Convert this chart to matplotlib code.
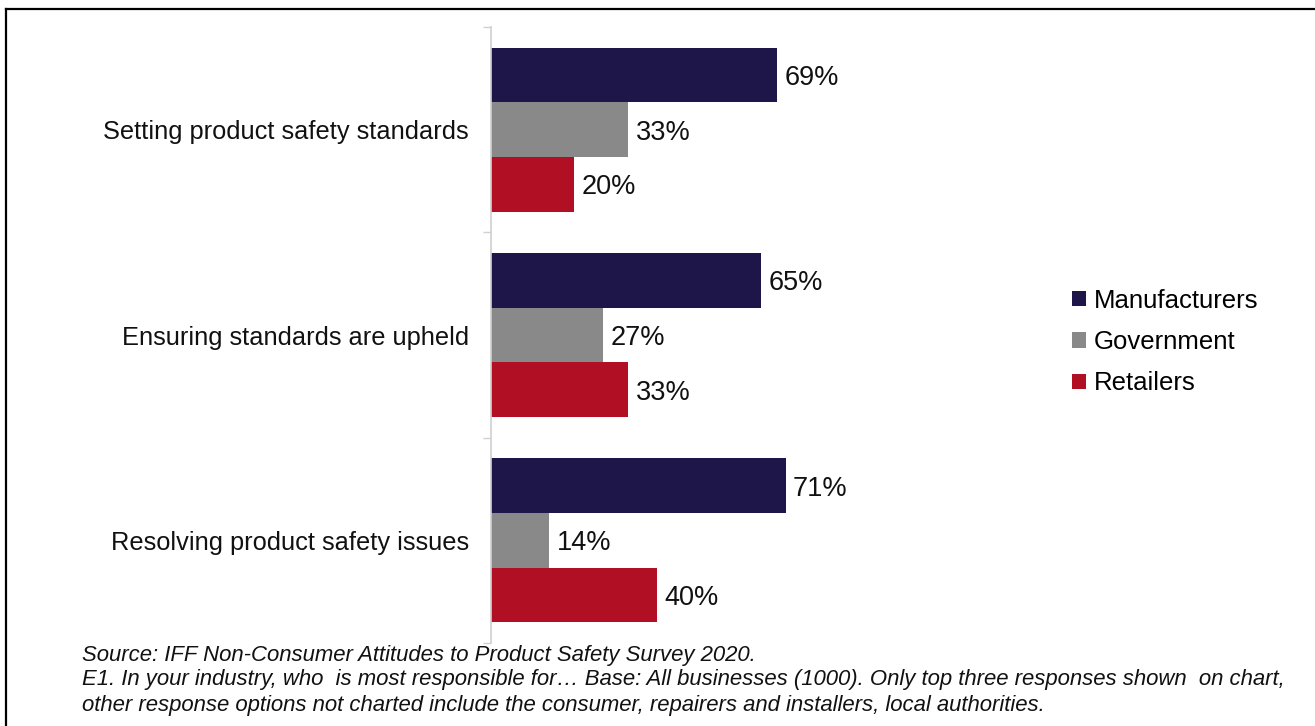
import matplotlib
matplotlib.use("Agg")
import matplotlib.pyplot as plt
from matplotlib.patches import Patch
from matplotlib.lines import Line2D
import numpy as np

plt.rcParams['font.family'] = ['Liberation Sans', 'DejaVu Sans']

categories = ["Setting product safety standards",
              "Ensuring standards are upheld",
              "Resolving product safety issues"]
series_names = ["Manufacturers", "Government", "Retailers"]
manufacturers = [69, 65, 71]
government = [33, 27, 14]
retailers = [20, 33, 40]
colors = ["#1E1548", "#898989", "#B00F24"]

source_lines = [
    "Source: IFF Non-Consumer Attitudes to Product Safety Survey 2020.",
    "E1. In your industry, who  is most responsible for\u2026 Base: All businesses (1000). Only top three responses shown  on chart,",
    "other response options not charted include the consumer, repairers and installers, local authorities.",
]

W, H = 1315, 726
fig = plt.figure(figsize=(W / 100, H / 100), dpi=100)

ax_left, ax_right = 491, 906
ax_top, ax_bottom = 27, 643
ax = fig.add_axes([ax_left / W, 1 - ax_bottom / H,
                   (ax_right - ax_left) / W, (ax_bottom - ax_top) / H])

n = len(categories)
bar_h = 0.8 / 3
values = [manufacturers, government, retailers]
for k, (vals, col, name) in enumerate(zip(values, colors, series_names)):
    ys = np.arange(n) - 0.4 + bar_h * (k + 0.5)
    ax.barh(ys, vals, height=bar_h, color=col, label=name, edgecolor='none')
    for y, v in zip(ys, vals):
        ax.text(v + 1.8, y, f"{v}%", va='center_baseline', ha='left',
                fontsize=19.5, color='#111111')

ax.set_xlim(0, 100)
ax.set_ylim(n - 0.5, -0.5)
ax.set_yticks(np.arange(n))
ax.set_yticklabels(categories, fontsize=18.3, color='#111111')
ax.tick_params(axis='y', which='major', length=0, pad=16)
ax.set_yticks(np.arange(n + 1) - 0.5, minor=True)
ax.tick_params(axis='y', which='minor', length=6, color='#D0D0D0', width=1)
ax.set_xticks([])
for s in ['top', 'right', 'bottom']:
    ax.spines[s].set_visible(False)
ax.spines['left'].set_color('#D0D0D0')
ax.spines['left'].set_linewidth(1.2)

handles = [Patch(facecolor=c, edgecolor='none') for c in colors]
fig.legend(handles, series_names, loc='center left',
           bbox_to_anchor=(1059 / W, 1 - 342 / H), frameon=False,
           fontsize=18.5, handlelength=0.55, handleheight=0.55,
           handletextpad=0.3, labelspacing=0.68, borderpad=0)

for i, line in enumerate(source_lines):
    fig.text(82 / W, 1 - (655 + 25 * i) / H, line, fontsize=15.9,
             style='italic', va='center', ha='left', color='#111111')

# outer frame: top and left edges
fig.add_artist(Line2D([6.5 / W, 1], [1 - 8.5 / H, 1 - 8.5 / H],
                      transform=fig.transFigure, color='black', lw=1.6))
fig.add_artist(Line2D([6.5 / W, 6.5 / W], [0, 1 - 8.5 / H],
                      transform=fig.transFigure, color='black', lw=1.6))

fig.savefig("out.png", dpi=100)
